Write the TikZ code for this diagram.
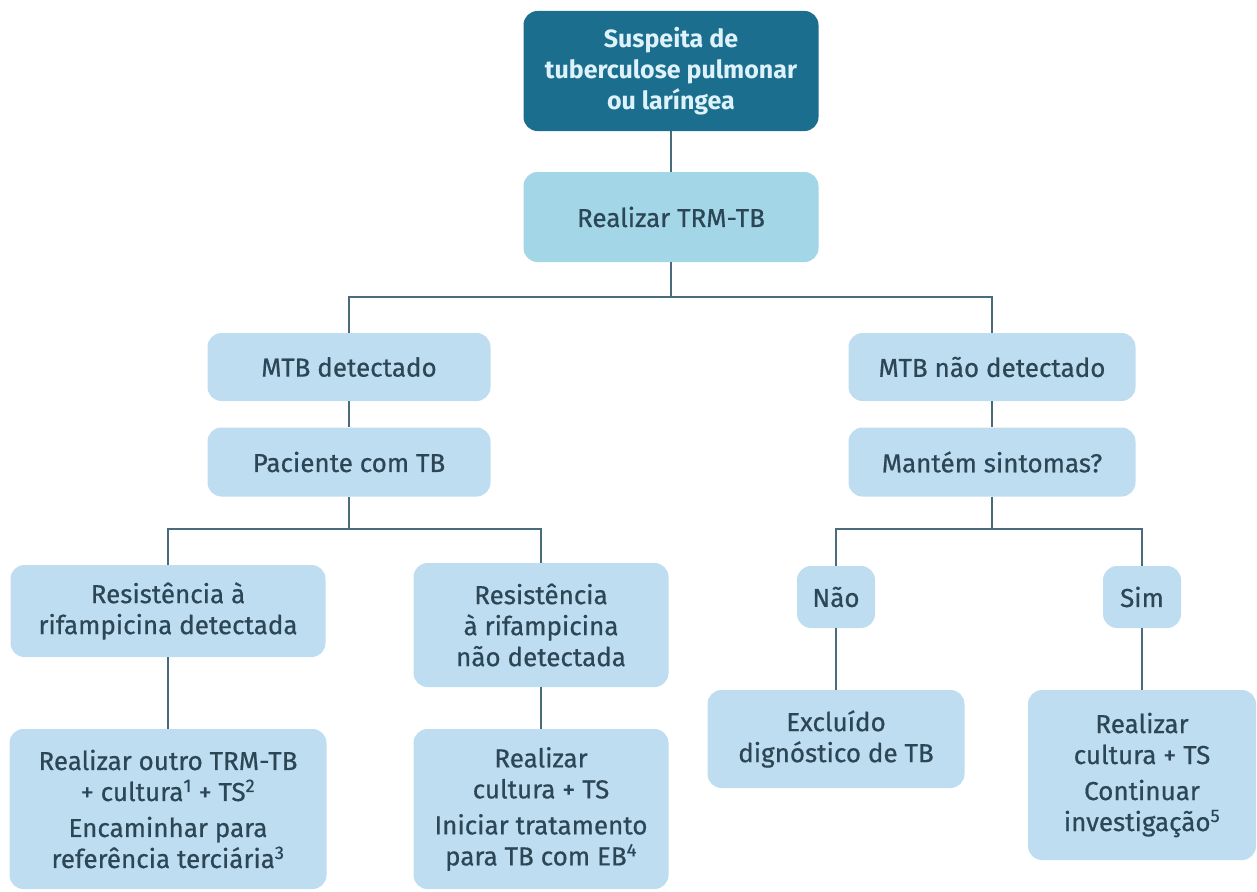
\documentclass[tikz,border=0pt]{standalone}
\usepackage{fontspec}
\setmainfont{Fira Sans}
\newfontfamily\medio{Fira Sans}[FakeBold=0.6]
\usetikzlibrary{positioning}

\definecolor{escuro}{HTML}{1B6E8E}
\definecolor{ciano}{HTML}{A3D6E6}
\definecolor{claro}{HTML}{BEDDF0}
\definecolor{linha}{HTML}{4A6B7C}
\definecolor{texto}{HTML}{2C4656}
\definecolor{textotopo}{HTML}{DDF2FA}

\tikzset{
  caixa/.style={rounded corners=14pt, fill=claro, text=texto, align=center,
    inner sep=0pt, font=\medio\fontsize{26}{31}\selectfont},
  caixatopo/.style={caixa, fill=escuro, text=textotopo,
    font=\bfseries\fontsize{25}{31}\selectfont},
  caixatrm/.style={caixa, fill=ciano},
  liga/.style={draw=linha, line width=2pt}
}

\begin{document}
\begin{tikzpicture}[x=1pt,y=-1pt]
\useasboundingbox (0,0) rectangle (1257,891);
% caixas
\node[caixatopo, minimum width=295, minimum height=120] (topo) at (671,71)
  {Suspeita de\\tuberculose pulmonar\\ou laríngea};
\node[caixatrm, minimum width=295, minimum height=90] (trm) at (671,217)
  {Realizar TRM-TB};
\node[caixa, minimum width=283, minimum height=68] (mtbd) at (349,367) {MTB detectado};
\node[caixa, minimum width=283, minimum height=69] (pac) at (349,462) {Paciente com TB};
\node[caixa, minimum width=287, minimum height=68] (mtbn) at (992,367) {MTB não detectado};
\node[caixa, minimum width=287, minimum height=69] (mant) at (992,462) {Mantém sintomas?};
\node[caixa, minimum width=315, minimum height=92] (resd) at (168,611)
  {Resistência à\\rifampicina detectada};
\node[caixa, minimum width=255, minimum height=124] (resn) at (541,625)
  {Resistência\\à rifampicina\\não detectada};
\node[caixa, minimum width=78, minimum height=62] (nao) at (836,597) {Não};
\node[caixa, minimum width=78, minimum height=62] (sim) at (1142,597) {Sim};
\node[caixa, minimum width=317, minimum height=160] (outro) at (168,809)
  {Realizar outro TRM-TB\\+ cultura\textsuperscript{1} + TS\textsuperscript{2}\\[5pt]
   Encaminhar para\\referência terciária\textsuperscript{3}};
\node[caixa, minimum width=255, minimum height=160] (cult) at (541,809)
  {Realizar\\cultura + TS\\[5pt]Iniciar tratamento\\para TB com EB\textsuperscript{4}};
\node[caixa, minimum width=257, minimum height=98] (excl) at (836,739)
  {Excluído\\dignóstico de TB};
\node[caixa, minimum width=228, minimum height=170] (contin) at (1142,775)
  {Realizar\\cultura + TS\\[5pt]Continuar\\investigação\textsuperscript{5}};
% pontos de ramificacao
\coordinate (b1) at (671,297);
\coordinate (b2) at (349,529);
\coordinate (b3) at (992,529);
% ligacoes
\draw[liga] (topo) -- (trm);
\draw[liga] (trm) -- (b1);
\draw[liga] (mtbd) |- (b1) -| (mtbn);
\draw[liga] (mtbd) -- (pac);
\draw[liga] (mtbn) -- (mant);
\draw[liga] (pac) -- (b2);
\draw[liga] (resd) |- (b2) -| (resn);
\draw[liga] (mant) -- (b3);
\draw[liga] (nao) |- (b3) -| (sim);
\draw[liga] (resd) -- (outro);
\draw[liga] (resn) -- (cult);
\draw[liga] (nao) -- (excl);
\draw[liga] (sim) -- (contin);
\end{tikzpicture}
\end{document}
